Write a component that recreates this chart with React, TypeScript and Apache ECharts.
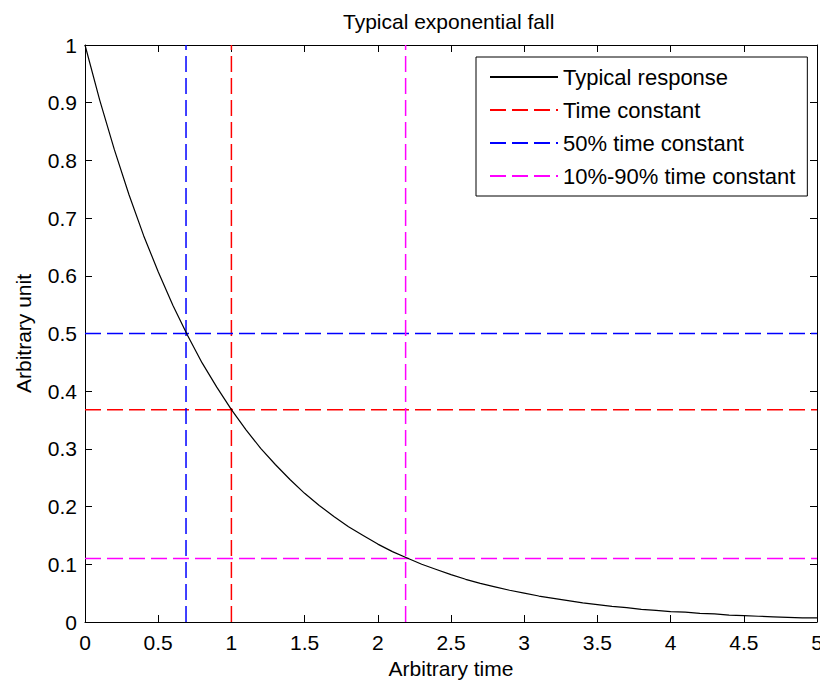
import React, { useEffect, useRef } from "react";
import * as echarts from "echarts";

const titleText = "Typical exponential fall";
const xName = "Arbitrary time";
const yName = "Arbitrary unit";

const timeValues = [
  0, 0.1, 0.2, 0.3, 0.4, 0.5, 0.6, 0.7, 0.8, 0.9, 1.0, 1.1, 1.2, 1.3, 1.4, 1.5, 1.6,
  1.7, 1.8, 1.9, 2.0, 2.1, 2.2, 2.3, 2.4, 2.5, 2.6, 2.7, 2.8, 2.9, 3.0, 3.1, 3.2, 3.3,
  3.4, 3.5, 3.6, 3.7, 3.8, 3.9, 4.0, 4.1, 4.2, 4.3, 4.4, 4.5, 4.6, 4.7, 4.8, 4.9, 5.0,
];
const responseValues = [
  1.0, 0.905, 0.819, 0.741, 0.67, 0.607, 0.549, 0.497, 0.449, 0.407, 0.368, 0.333,
  0.301, 0.273, 0.247, 0.223, 0.202, 0.183, 0.165, 0.15, 0.135, 0.122, 0.111, 0.1,
  0.091, 0.082, 0.074, 0.067, 0.061, 0.055, 0.05, 0.045, 0.041, 0.037, 0.033, 0.03,
  0.027, 0.025, 0.022, 0.02, 0.018, 0.017, 0.015, 0.014, 0.012, 0.011, 0.01, 0.009,
  0.008, 0.007, 0.007,
];

const markerNames = ["Time constant", "50% time constant", "10%-90% time constant"];
const markerTimes = [1.0, 0.69, 2.19];
const markerLevels = [0.368, 0.5, 0.11];
const markerColors = ["#ff0000", "#0000ff", "#ff00ff"];

const xRange = [0, 5];
const yRange = [0, 1];

const FONT = "'Liberation Sans', Arial, sans-serif";

export default function App() {
  const ref = useRef<HTMLDivElement>(null);
  useEffect(() => {
    if (!ref.current) return;
    const chart = echarts.init(ref.current, undefined, { renderer: "svg" });
    const dash = [16, 6];
    const markerSeries: any[] = [];
    markerNames.forEach((name, i) => {
      markerSeries.push({
        name,
        type: "line",
        symbol: "none",
        data: [
          [markerTimes[i], yRange[0]],
          [markerTimes[i], yRange[1]],
        ],
        lineStyle: { color: markerColors[i], width: 1.5, type: dash },
        itemStyle: { color: markerColors[i] },
        z: 2,
      });
      markerSeries.push({
        name,
        type: "line",
        symbol: "none",
        data: [
          [xRange[0], markerLevels[i]],
          [xRange[1], markerLevels[i]],
        ],
        lineStyle: { color: markerColors[i], width: 1.5, type: dash },
        itemStyle: { color: markerColors[i] },
        z: 2,
      });
    });

    const axisCommon = {
      axisLine: { show: true, onZero: false, lineStyle: { color: "#000", width: 1 } },
      axisTick: { show: true, inside: true, length: 7, lineStyle: { color: "#000" } },
      splitLine: { show: false },
    };

    chart.setOption({
      animation: false,
      backgroundColor: "#fff",
      textStyle: { fontFamily: FONT },
      title: {
        text: titleText,
        left: 338,
        top: 6,
        textStyle: { fontSize: 21, fontWeight: "normal", color: "#000", fontFamily: FONT },
      },
      grid: {
        left: 85,
        right: 3,
        top: 45,
        bottom: 61,
        containLabel: false,
        outerBoundsMode: "none",
      },
      legend: {
        orient: "vertical",
        left: 476,
        top: 57,
        padding: [9, 12, 9, 13],
        itemGap: 11,
        itemWidth: 68,
        itemHeight: 14,
        borderColor: "#000",
        borderWidth: 1,
        backgroundColor: "#fff",
        borderRadius: 0,
        itemStyle: { opacity: 0 },
        data: ["Typical response", ...markerNames],
        textStyle: { fontSize: 22, color: "#000", fontFamily: FONT, lineHeight: 21 },
      },
      xAxis: [
        {
          type: "value",
          min: xRange[0],
          max: xRange[1],
          interval: 0.5,
          position: "bottom",
          name: xName,
          nameLocation: "middle",
          nameGap: 34,
          nameTextStyle: { fontSize: 21, color: "#000", fontFamily: FONT },
          axisLabel: { fontSize: 21, color: "#000", margin: 10, fontFamily: FONT },
          ...axisCommon,
        },
        {
          type: "value",
          min: xRange[0],
          max: xRange[1],
          interval: 0.5,
          position: "top",
          axisLabel: { show: false },
          ...axisCommon,
        },
      ],
      yAxis: [
        {
          type: "value",
          min: yRange[0],
          max: yRange[1],
          interval: 0.1,
          position: "left",
          name: yName,
          nameLocation: "middle",
          nameGap: 51,
          nameRotate: 90,
          nameTextStyle: { fontSize: 21, color: "#000", fontFamily: FONT },
          axisLabel: { fontSize: 21, color: "#000", margin: 8, fontFamily: FONT },
          ...axisCommon,
        },
        {
          type: "value",
          min: yRange[0],
          max: yRange[1],
          interval: 0.1,
          position: "right",
          axisLabel: { show: false },
          ...axisCommon,
        },
      ],
      series: [
        {
          name: "Typical response",
          type: "line",
          symbol: "none",
          data: timeValues.map((t, i) => [t, responseValues[i]]),
          lineStyle: { color: "#000", width: 1.2 },
          itemStyle: { color: "#000" },
          z: 3,
        },
        ...markerSeries,
      ],
    });
    return () => chart.dispose();
  }, []);
  return (
    <div
      ref={ref}
      style={{ position: "fixed", left: 0, top: 0, width: 820, height: 683, background: "#fff" }}
    />
  );
}
